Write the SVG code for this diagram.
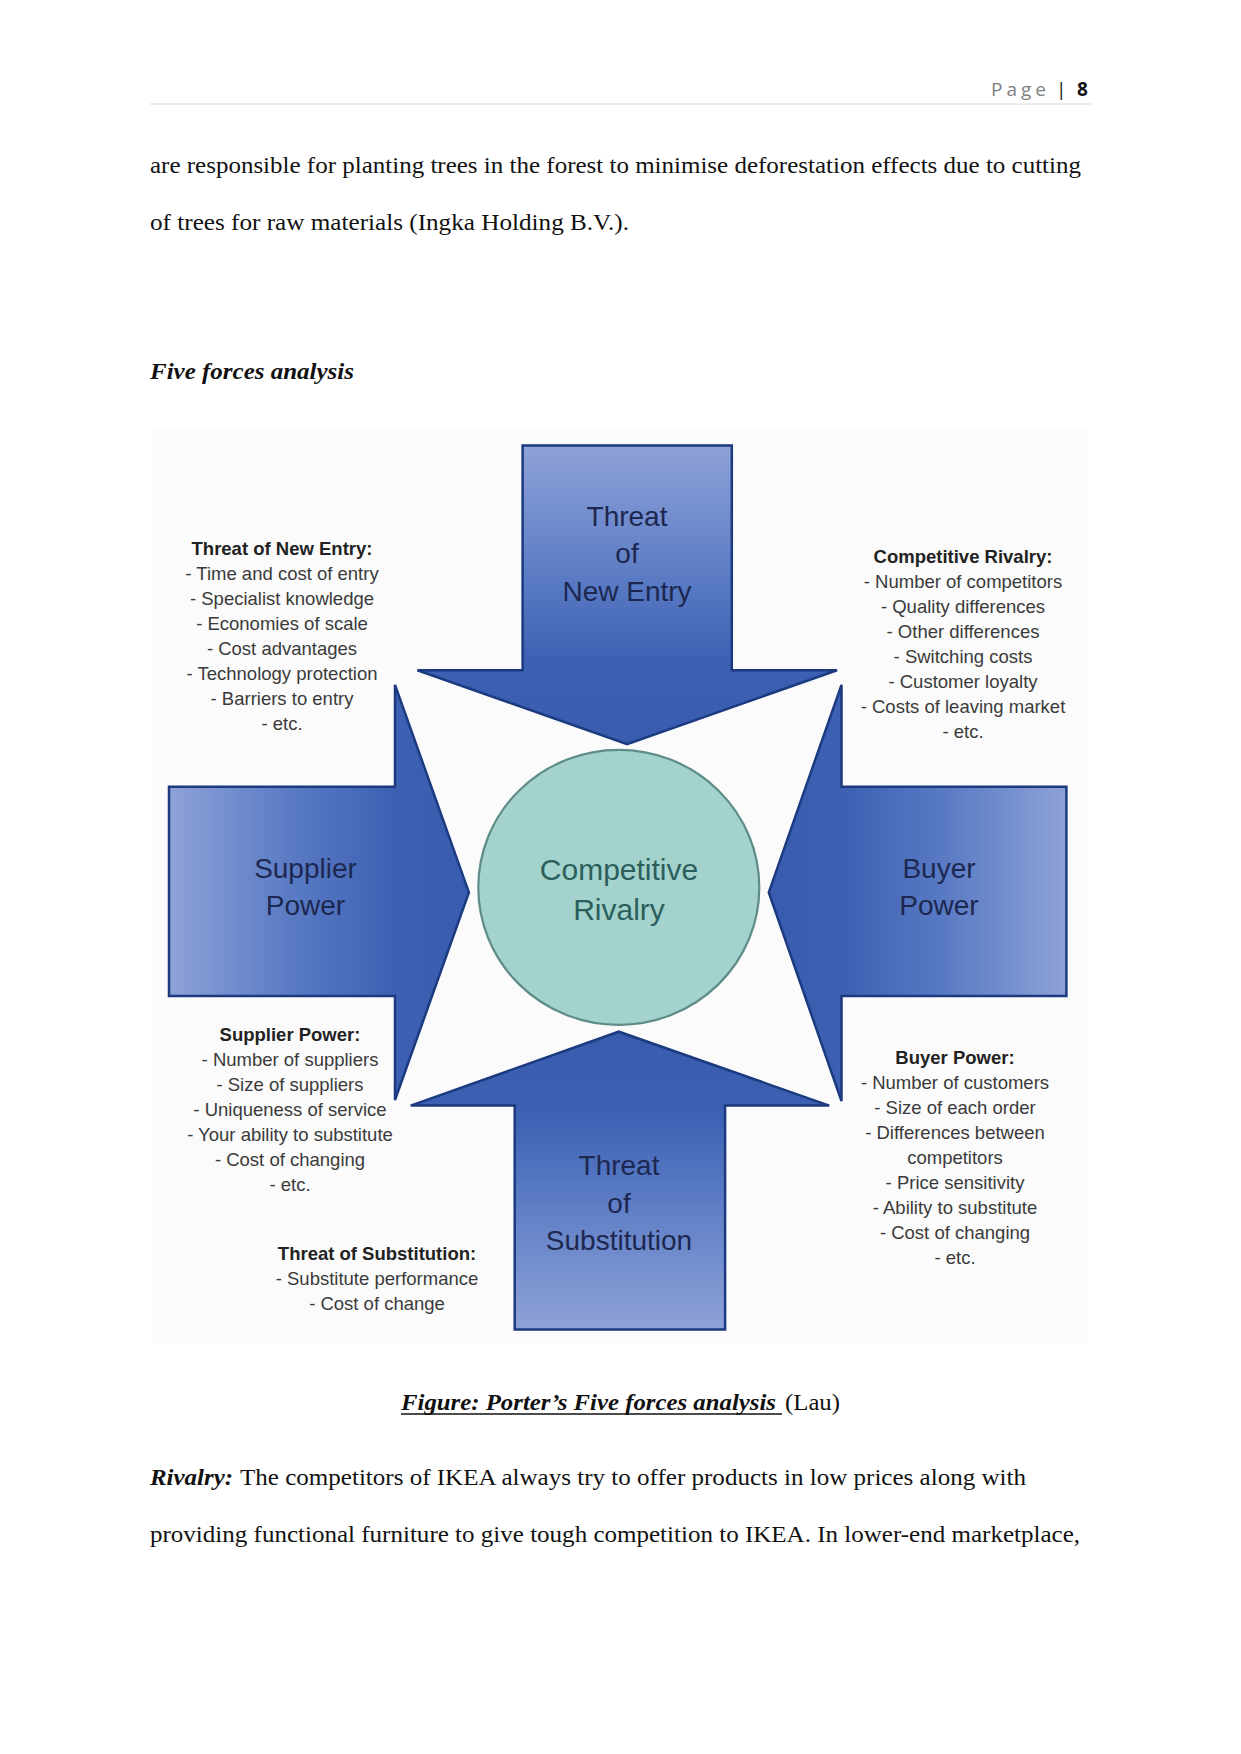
<svg xmlns="http://www.w3.org/2000/svg" width="1241" height="1754" viewBox="0 0 1241 1754">
<defs>
<style>
.body{font-family:"Liberation Serif","Times New Roman",serif;font-size:24px;fill:#111}
.bi{font-family:"Liberation Serif","Times New Roman",serif;font-size:24px;font-weight:bold;font-style:italic;fill:#111}
.lbl{font-family:"Liberation Sans",Arial,sans-serif;font-size:28px;fill:#1c2850;text-anchor:middle}
.ctr{font-family:"Liberation Sans",Arial,sans-serif;font-size:30px;fill:#2b5f5c;text-anchor:middle}
.note{font-family:"Liberation Sans",Arial,sans-serif;font-size:18.5px;fill:#3a3a3a;text-anchor:middle}
.head{font-weight:bold;fill:#222}
.arrow{stroke:#1b3a80;stroke-width:2.5;stroke-linejoin:miter}
</style>
<linearGradient id="gDown" x1="0" y1="0" x2="0" y2="1">
<stop offset="0" stop-color="#8fa2d8"/><stop offset="0.45" stop-color="#5a7bc4"/><stop offset="0.72" stop-color="#3d60b3"/><stop offset="1" stop-color="#3a5cae"/>
</linearGradient>
<linearGradient id="gUp" x1="0" y1="1" x2="0" y2="0">
<stop offset="0" stop-color="#8fa2d8"/><stop offset="0.45" stop-color="#5a7bc4"/><stop offset="0.72" stop-color="#3d60b3"/><stop offset="1" stop-color="#3a5cae"/>
</linearGradient>
<linearGradient id="gRight" x1="0" y1="0" x2="1" y2="0">
<stop offset="0" stop-color="#8fa2d8"/><stop offset="0.4" stop-color="#5a7bc4"/><stop offset="0.75" stop-color="#3d60b3"/><stop offset="1" stop-color="#3a5cae"/>
</linearGradient>
<linearGradient id="gLeft" x1="1" y1="0" x2="0" y2="0">
<stop offset="0" stop-color="#8fa2d8"/><stop offset="0.4" stop-color="#5a7bc4"/><stop offset="0.75" stop-color="#3d60b3"/><stop offset="1" stop-color="#3a5cae"/>
</linearGradient>
</defs>
<rect x="0" y="0" width="1241" height="1754" fill="#ffffff"/>

<g id="page-header">
<text x="1050" y="96" font-family="'Open Sans','Liberation Sans',sans-serif" font-size="19" fill="#7f7f7f" text-anchor="end" letter-spacing="4">Page</text>
<text x="1056" y="96" font-family="'Open Sans','Liberation Sans',sans-serif" font-size="19" fill="#111">|</text>
<text x="1077" y="96" font-family="'Open Sans','Liberation Sans',sans-serif" font-size="19" font-weight="bold" fill="#111">8</text>
<line x1="150" y1="104" x2="1091" y2="104" stroke="#d9d9d9" stroke-width="1.2"/>
</g>

<g id="intro-text">
<text class="body" x="150" y="173" textLength="931" lengthAdjust="spacingAndGlyphs">are responsible for planting trees in the forest to minimise deforestation effects due to cutting</text>
<text class="body" x="150" y="230" textLength="479" lengthAdjust="spacingAndGlyphs">of trees for raw materials (Ingka Holding B.V.).</text>
<text class="bi" x="150" y="379" textLength="204" lengthAdjust="spacingAndGlyphs">Five forces analysis</text>
</g>

<rect x="153" y="429" width="934" height="914" fill="#fbfbfb"/>

<g id="connectors"></g>

<g id="threat-new-entry-arrow">
<polygon class="arrow" fill="url(#gDown)" points="522.6,445.4 731.8,445.4 731.8,670.3 837,670.3 627.1,744.1 417.4,670.3 522.6,670.3"/>
<text class="lbl" x="627" y="526">Threat</text>
<text class="lbl" x="627" y="563">of</text>
<text class="lbl" x="627" y="601">New Entry</text>
</g>

<g id="supplier-power-arrow">
<polygon class="arrow" fill="url(#gRight)" points="169,786.7 395,786.7 395,684.8 468.9,892.4 395,1100 395,995.9 169,995.9"/>
<text class="lbl" x="305.5" y="878">Supplier</text>
<text class="lbl" x="305.5" y="915">Power</text>
</g>

<g id="buyer-power-arrow">
<polygon class="arrow" fill="url(#gLeft)" points="1066.4,786.7 841.5,786.7 841.5,684.8 768.8,892.4 841.5,1101 841.5,995.9 1066.4,995.9"/>
<text class="lbl" x="939" y="878">Buyer</text>
<text class="lbl" x="939" y="915">Power</text>
</g>

<g id="threat-substitution-arrow">
<polygon class="arrow" fill="url(#gUp)" points="514.7,1329.4 725.1,1329.4 725.1,1105.6 829.2,1105.6 618.8,1031.7 410.7,1105.6 514.7,1105.6"/>
<text class="lbl" x="619" y="1175">Threat</text>
<text class="lbl" x="619" y="1213">of</text>
<text class="lbl" x="619" y="1250">Substitution</text>
</g>

<g id="competitive-rivalry">
<ellipse cx="618.8" cy="887.4" rx="140.5" ry="137.5" fill="#a4d2cc" stroke="#5e8d89" stroke-width="2.2"/>
<text class="ctr" x="619" y="880">Competitive</text>
<text class="ctr" x="619" y="920">Rivalry</text>
</g>

<g id="note-new-entry">
<text class="note head" x="282" y="555">Threat of New Entry:</text>
<text class="note" x="282" y="580">- Time and cost of entry</text>
<text class="note" x="282" y="605">- Specialist knowledge</text>
<text class="note" x="282" y="630">- Economies of scale</text>
<text class="note" x="282" y="655">- Cost advantages</text>
<text class="note" x="282" y="680">- Technology protection</text>
<text class="note" x="282" y="705">- Barriers to entry</text>
<text class="note" x="282" y="730">- etc.</text>
</g>

<g id="note-rivalry">
<text class="note head" x="963" y="563">Competitive Rivalry:</text>
<text class="note" x="963" y="588">- Number of competitors</text>
<text class="note" x="963" y="613">- Quality differences</text>
<text class="note" x="963" y="638">- Other differences</text>
<text class="note" x="963" y="663">- Switching costs</text>
<text class="note" x="963" y="688">- Customer loyalty</text>
<text class="note" x="963" y="713">- Costs of leaving market</text>
<text class="note" x="963" y="738">- etc.</text>
</g>

<g id="note-supplier">
<text class="note head" x="290" y="1041">Supplier Power:</text>
<text class="note" x="290" y="1066">- Number of suppliers</text>
<text class="note" x="290" y="1091">- Size of suppliers</text>
<text class="note" x="290" y="1116">- Uniqueness of service</text>
<text class="note" x="290" y="1141">- Your ability to substitute</text>
<text class="note" x="290" y="1166">- Cost of changing</text>
<text class="note" x="290" y="1191">- etc.</text>
</g>

<g id="note-substitution">
<text class="note head" x="377" y="1260">Threat of Substitution:</text>
<text class="note" x="377" y="1285">- Substitute performance</text>
<text class="note" x="377" y="1310">- Cost of change</text>
</g>

<g id="note-buyer">
<text class="note head" x="955" y="1064">Buyer Power:</text>
<text class="note" x="955" y="1089">- Number of customers</text>
<text class="note" x="955" y="1114">- Size of each order</text>
<text class="note" x="955" y="1139">- Differences between</text>
<text class="note" x="955" y="1164">competitors</text>
<text class="note" x="955" y="1189">- Price sensitivity</text>
<text class="note" x="955" y="1214">- Ability to substitute</text>
<text class="note" x="955" y="1239">- Cost of changing</text>
<text class="note" x="955" y="1264">- etc.</text>
</g>

<g id="caption">
<text class="bi" x="401" y="1410" textLength="375" lengthAdjust="spacingAndGlyphs">Figure: Porter’s Five forces analysis</text>
<line x1="401" y1="1414" x2="782" y2="1414" stroke="#111" stroke-width="1.5"/>
<text class="body" x="785" y="1410" textLength="55" lengthAdjust="spacingAndGlyphs">(Lau)</text>
</g>

<g id="body-text">
<text class="bi" x="150" y="1485" textLength="83" lengthAdjust="spacingAndGlyphs">Rivalry:</text>
<text class="body" x="240" y="1485" textLength="786" lengthAdjust="spacingAndGlyphs">The competitors of IKEA always try to offer products in low prices along with</text>
<text class="body" x="150" y="1542" textLength="930" lengthAdjust="spacingAndGlyphs">providing functional furniture to give tough competition to IKEA. In lower-end marketplace,</text>
</g>
</svg>
